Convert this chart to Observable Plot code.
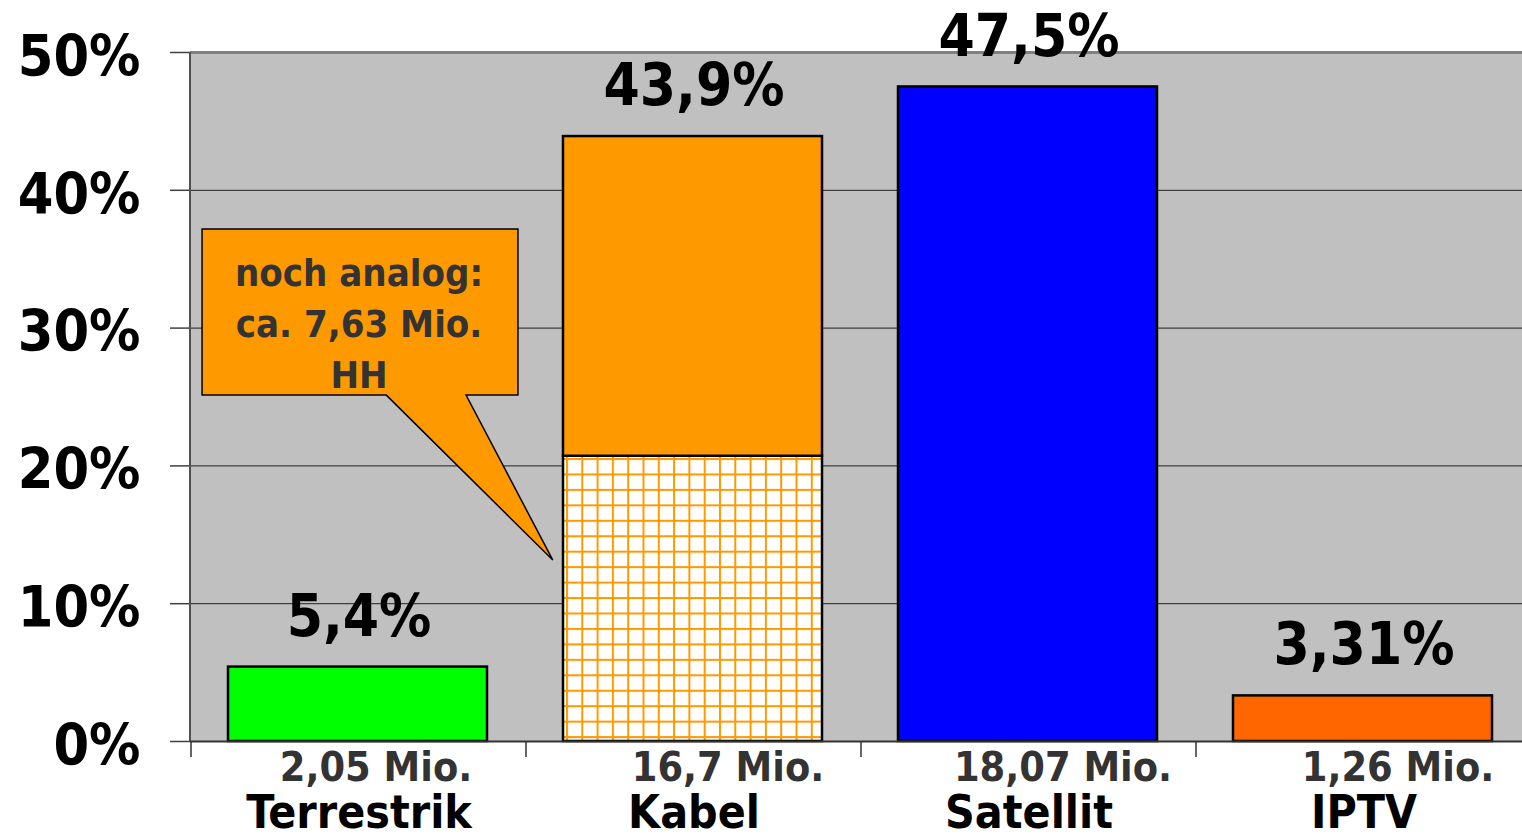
<!DOCTYPE html>
<html><head><meta charset="utf-8">
<script src="https://cdn.jsdelivr.net/npm/d3@7"></script>
<script src="https://cdn.jsdelivr.net/npm/@observablehq/plot@0.6"></script>
<style>
body{margin:0;background:#fff;}
#chart svg{display:block;}
</style>
</head><body><div id="chart"></div>
<script>
// ---- data ----
const categories = ["Terrestrik", "Kabel", "Satellit", "IPTV"];
const shares = [5.4, 43.9, 47.5, 3.31];
const shareLabels = ["5,4%", "43,9%", "47,5%", "3,31%"];
const households = ["2,05 Mio.", "16,7 Mio.", "18,07 Mio.", "1,26 Mio."];
const kabelAnalogShare = 20.7;
const yTicks = [0, 10, 20, 30, 40, 50];
const calloutLines = ["noch analog:", "ca. 7,63 Mio.", "HH"];

// ---- styles ----
const barColors = {Terrestrik: "#00FF00", Kabel: "#FF9900", Satellit: "#0000FF", IPTV: "#FF6600"};
const FONT = "'DejaVu Sans Condensed', 'DejaVu Sans', sans-serif";

// callout geometry (data units / band fractions)
const callout = {
  category: "Terrestrik", left: 0.033, right: 0.976, top: 37.15, bottom: 25.1,
  baseLeft: 0.583, baseRight: 0.821, target: "Kabel", tipFrac: 0.08, tipY: 13.13, textY: 30.55
};

// segments built from the arrays
const segments = [];
categories.forEach((c, i) => {
  if (c === "Kabel") {
    segments.push({category: c, y1: 0, y2: kabelAnalogShare, fill: "url(#kabelGrid)"});
    segments.push({category: c, y1: kabelAnalogShare, y2: shares[i], fill: barColors[c]});
  } else {
    segments.push({category: c, y1: 0, y2: shares[i], fill: barColors[c]});
  }
});

const NS = "http://www.w3.org/2000/svg";
function bw(scales) {
  const x = scales.x;
  if (typeof x.bandwidth === "function") return x.bandwidth();
  if (scales.scales && scales.scales.x) return scales.scales.x.bandwidth;
  return 0;
}

const defsMark = () => {
  const g = document.createElementNS(NS, "g");
  g.innerHTML = `<defs><pattern id="kabelGrid" patternUnits="userSpaceOnUse" width="15.3" height="15.45" x="566" y="458">
    <rect width="15.3" height="15.45" fill="#fff"/>
    <rect x="0" y="0" width="2" height="15.45" fill="#FF9900"/>
    <rect x="0" y="0" width="15.3" height="2" fill="#FF9900"/>
  </pattern></defs>`;
  return g;
};

const frameLinesMark = (index, scales, values, dim) => {
  const x = scales.x, y = scales.y;
  const g = document.createElementNS(NS, "g");
  const y0 = y(0);
  let html = `<line x1="${dim.marginLeft}" x2="${dim.marginLeft}" y1="${y(50)}" y2="${y0}" stroke="#505050" stroke-width="2"/>`;
  categories.forEach(c => {
    const xx = x(c);
    html += `<line x1="${xx}" x2="${xx}" y1="${y0}" y2="${y0 + 16}" stroke="#333" stroke-width="1.5"/>`;
  });
  g.innerHTML = html;
  return g;
};

const calloutMark = (index, scales) => {
  const x = scales.x, y = scales.y, b = bw(scales);
  const px = (cat, f) => x(cat) + f * b;
  const c = callout;
  const pts = [
    [px(c.category, c.left), y(c.top)],
    [px(c.category, c.right), y(c.top)],
    [px(c.category, c.right), y(c.bottom)],
    [px(c.category, c.baseRight), y(c.bottom)],
    [px(c.target, c.tipFrac), y(c.tipY)],
    [px(c.category, c.baseLeft), y(c.bottom)],
    [px(c.category, c.left), y(c.bottom)]
  ];
  const p = document.createElementNS(NS, "path");
  p.setAttribute("d", "M" + pts.map(d => d.join(",")).join("L") + "Z");
  p.setAttribute("fill", "#FF9900");
  p.setAttribute("stroke", "#000");
  p.setAttribute("stroke-width", "1.5");
  return p;
};

const chart = Plot.plot({
  width: 1522,
  height: 836,
  marginLeft: 190,
  marginRight: 0,
  marginTop: 52,
  marginBottom: 95,
  style: {fontFamily: FONT, fontStretch: "condensed", fontWeight: "bold", background: "#fff", overflow: "visible", color: "#000"},
  x: {domain: categories, range: [190, 1532], padding: 0, axis: null},
  y: {domain: [0, 50], axis: null},
  marks: [
    defsMark,
    Plot.frame({fill: "#C0C0C0", stroke: null}),
    Plot.ruleY([10, 20, 30, 40], {stroke: "#404040", strokeWidth: 1.3}),
    Plot.ruleY([50], {stroke: "#808080", strokeWidth: 3}),
    Plot.axisY({ticks: yTicks, tickSize: 20, tickFormat: () => "", stroke: "#404040", strokeWidth: 1.5, label: null}),
    Plot.axisY({ticks: yTicks, tickFormat: d => d + "%", tickSize: 0, tickPadding: 50, fontSize: 57, fontWeight: "bold", label: null, dy: 5}),
    frameLinesMark,
    calloutMark,
    Plot.text([calloutLines.join("\n")], {x: () => callout.category, y: () => callout.textY, text: d => d, fontSize: 38, lineHeight: 1.34, fill: "#333", fontWeight: "bold"}),
    Plot.barY(segments, {x: "category", y1: "y1", y2: "y2", fill: "fill", stroke: "#000", strokeWidth: 2.5, insetLeft: 37, insetRight: 39}),
    Plot.ruleY([0], {stroke: "#333", strokeWidth: 2}),
    Plot.text(categories, {x: d => d, y: (d, i) => shares[i], text: (d, i) => shareLabels[i], dy: -50, fontSize: 58, fill: "#000", fontWeight: "bold"}),
    Plot.text(categories, {filter: d => d === "Terrestrik", x: d => d, y: () => 0, text: (d, i) => households[categories.indexOf(d)], dy: 26, dx: 17, fontSize: 41, fill: "#333", fontWeight: "bold"}),
    Plot.text(categories, {filter: d => d !== "Terrestrik", x: d => d, y: () => 0, text: (d) => households[categories.indexOf(d)], dy: 26, dx: 34, fontSize: 41, fill: "#333", fontWeight: "bold"}),
    Plot.text(categories, {x: d => d, y: () => 0, text: d => d, dy: 72, fontSize: 46, fill: "#000", fontWeight: "bold"})
  ]
});
document.getElementById("chart").appendChild(chart);
</script>
</body></html>
